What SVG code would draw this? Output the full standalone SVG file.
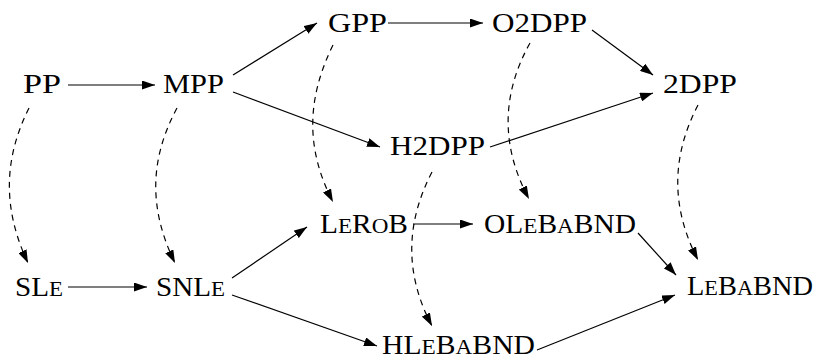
<svg xmlns="http://www.w3.org/2000/svg" width="821" height="358" viewBox="0 0 821 358">
  <style>
    text { font-family: "Liberation Serif", "DejaVu Serif", serif; font-size: 28px; font-weight: normal; fill: #000; }
    .sc { font-size: 22px; }
    .edge { fill: none; stroke: #000; stroke-width: 1.2; marker-end: url(#ah); }
    .dash { stroke-dasharray: 6 5; }
  </style>
  <defs>
    <marker id="ah" markerUnits="userSpaceOnUse" markerWidth="13" markerHeight="9" viewBox="0 0 13 9" refX="13" refY="4.5" orient="auto">
      <path d="M0,0 L13,4.5 L0,9 z" fill="#000"/>
    </marker>
  </defs>
  <rect width="821" height="358" fill="#fff"/>

  <g id="edges">
    <!-- refinement (solid) -->
    <path class="edge" d="M68,85 L155,85"/>
    <path class="edge" d="M233,75 L317,23"/>
    <path class="edge" d="M233,92 L380,147"/>
    <path class="edge" d="M388,23 L483,23"/>
    <path class="edge" d="M592,30 L653,75"/>
    <path class="edge" d="M490,147 L653,93"/>
    <path class="edge" d="M68,287 L147,287"/>
    <path class="edge" d="M232,278 L307,227"/>
    <path class="edge" d="M232,295 L377,346"/>
    <path class="edge" d="M413,224 L473,224"/>
    <path class="edge" d="M638,233 L676,275"/>
    <path class="edge" d="M537,350 L675,295"/>
    <!-- mapping (dashed) -->
    <path class="edge dash" d="M29,108 C3,160 3,210 28,263"/>
    <path class="edge dash" d="M177,108 C149,160 149,210 175,263"/>
    <path class="edge dash" d="M333,45 C306,100 306,150 333,202"/>
    <path class="edge dash" d="M530,43 C501,95 501,147 529,199"/>
    <path class="edge dash" d="M432,172 C405,224 405,275 432,326"/>
    <path class="edge dash" d="M698,105 C671,157 671,208 698,260"/>
  </g>

  <g id="n-PP"><text x="23" y="93" textLength="38" lengthAdjust="spacingAndGlyphs">PP</text></g>
  <g id="n-MPP"><text x="163" y="93" textLength="61" lengthAdjust="spacingAndGlyphs">MPP</text></g>
  <g id="n-GPP"><text x="328" y="32" textLength="59" lengthAdjust="spacingAndGlyphs">GPP</text></g>
  <g id="n-O2DPP"><text x="492" y="32" textLength="95" lengthAdjust="spacingAndGlyphs">O2DPP</text></g>
  <g id="n-2DPP"><text x="663" y="93" textLength="74" lengthAdjust="spacingAndGlyphs">2DPP</text></g>
  <g id="n-H2DPP"><text x="390" y="155" textLength="95" lengthAdjust="spacingAndGlyphs">H2DPP</text></g>
  <g id="n-LeRoB"><text x="320" y="233" textLength="88" lengthAdjust="spacingAndGlyphs">L<tspan class="sc">E</tspan>R<tspan class="sc">O</tspan>B</text></g>
  <g id="n-OLeBaBND"><text x="484" y="233" textLength="152" lengthAdjust="spacingAndGlyphs">OL<tspan class="sc">E</tspan>B<tspan class="sc">A</tspan>BND</text></g>
  <g id="n-SLe"><text x="15" y="296" textLength="48" lengthAdjust="spacingAndGlyphs">SL<tspan class="sc">E</tspan></text></g>
  <g id="n-SNLe"><text x="156" y="296" textLength="69" lengthAdjust="spacingAndGlyphs">SNL<tspan class="sc">E</tspan></text></g>
  <g id="n-LeBaBND"><text x="687" y="295" textLength="126" lengthAdjust="spacingAndGlyphs">L<tspan class="sc">E</tspan>B<tspan class="sc">A</tspan>BND</text></g>
  <g id="n-HLeBaBND"><text x="382" y="354" textLength="153" lengthAdjust="spacingAndGlyphs">HL<tspan class="sc">E</tspan>B<tspan class="sc">A</tspan>BND</text></g>
</svg>
